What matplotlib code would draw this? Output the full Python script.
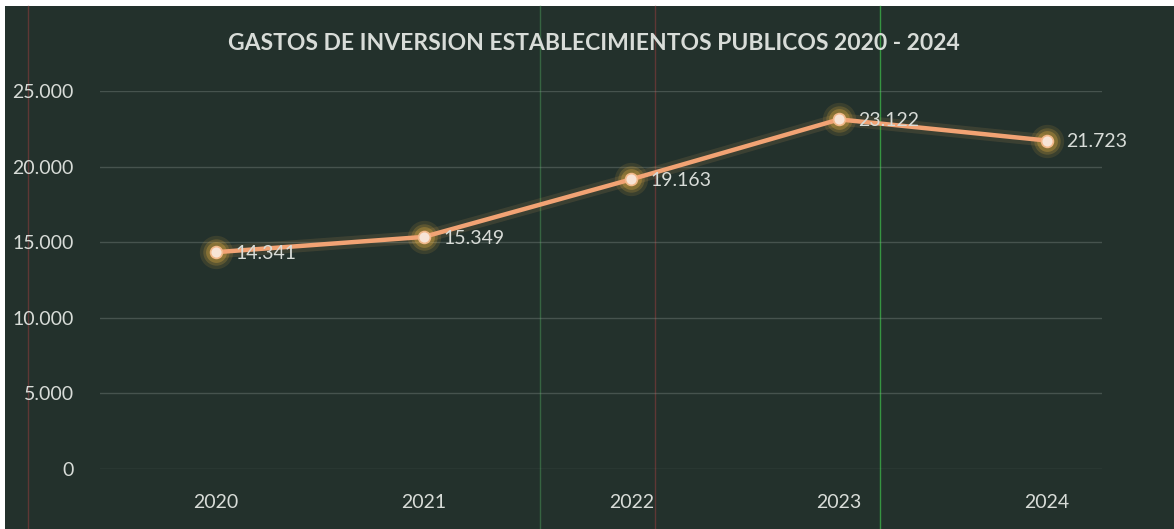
import matplotlib
matplotlib.use("Agg")
import matplotlib.pyplot as plt
from matplotlib.patches import Rectangle
from matplotlib.lines import Line2D
from matplotlib.ticker import FuncFormatter

years = ["2020", "2021", "2022", "2023", "2024"]
gastos = [14341, 15349, 19163, 23122, 21723]
y_ticks = [0, 5000, 10000, 15000, 20000, 25000]

title = "GASTOS DE INVERSION ESTABLECIMIENTOS PUBLICOS 2020 - 2024"

BG = "#23312c"
TXT = "#d8dcd8"
LINE = "#f2a374"
FONT = "Lato"


def miles(v, pos=None):
    """Excel style thousands separator with a dot"""
    return f"{int(v):,}".replace(",", ".")


fig = plt.figure(figsize=(11.74, 5.29), dpi=100, facecolor="white")
# dark chart surface, thin white margin on top/left like the scan
fig.add_artist(Rectangle((5 / 1174, 0), 1, 1 - 6 / 529, transform=fig.transFigure,
                         facecolor=BG, edgecolor="none", zorder=-10))
# a few faint coloured scan streaks
for xpix, col in [(28, "#7a3a3a"), (540, "#3f7a4a"), (655, "#7a3a3a"), (880, "#3fbf4a")]:
    fig.add_artist(Line2D([xpix / 1174] * 2, [0, 1 - 6 / 529], transform=fig.transFigure,
                          color=col, lw=1, alpha=0.7, zorder=-9))

ax = fig.add_axes([100 / 1174, 60 / 529, 1002 / 1174, 378 / 529])
ax.set_facecolor("none")
x = list(range(len(years)))

ax.set_ylim(0, 25000)
ax.set_xlim(-0.558, 4.265)
ax.set_yticks(y_ticks)
ax.yaxis.set_major_formatter(FuncFormatter(miles))
ax.set_xticks(x)
ax.set_xticklabels(years)
ax.tick_params(length=0, colors=TXT, labelsize=14)
ax.tick_params(axis="y", pad=19)
ax.tick_params(axis="x", pad=18)
for lab in ax.get_xticklabels() + ax.get_yticklabels():
    lab.set_fontfamily(FONT)
for s in ax.spines.values():
    s.set_visible(False)
ax.grid(axis="y", color="#8a948f", alpha=0.35, lw=1)
ax.set_axisbelow(True)

# glow under the line and markers
ax.plot(x, gastos, color="#f0b060", lw=9, alpha=0.12, solid_capstyle="round")
for ms, a in [(24, 0.12), (19, 0.2), (15, 0.3)]:
    ax.plot(x, gastos, "o", ms=ms, color="#e8b040", alpha=a, mec="none")
ax.plot(x, gastos, color=LINE, lw=3.2, solid_capstyle="round", zorder=5)
ax.plot(x, gastos, "o", ms=8.5, mfc="#f7e4d6", mec="#f2b98a", mew=1.2, zorder=6)

for xi, v in zip(x, gastos):
    ax.annotate(miles(v), (xi, v), xytext=(14, -1), textcoords="offset points",
                ha="left", va="center", color=TXT, fontsize=14, fontfamily=FONT, zorder=7)

fig.text(594 / 1174, 1 - 44 / 529, title, ha="center", va="center", color=TXT,
         fontsize=16.5, fontweight="bold", fontfamily=FONT)

fig.savefig("out.png", dpi=100, facecolor=fig.get_facecolor())
